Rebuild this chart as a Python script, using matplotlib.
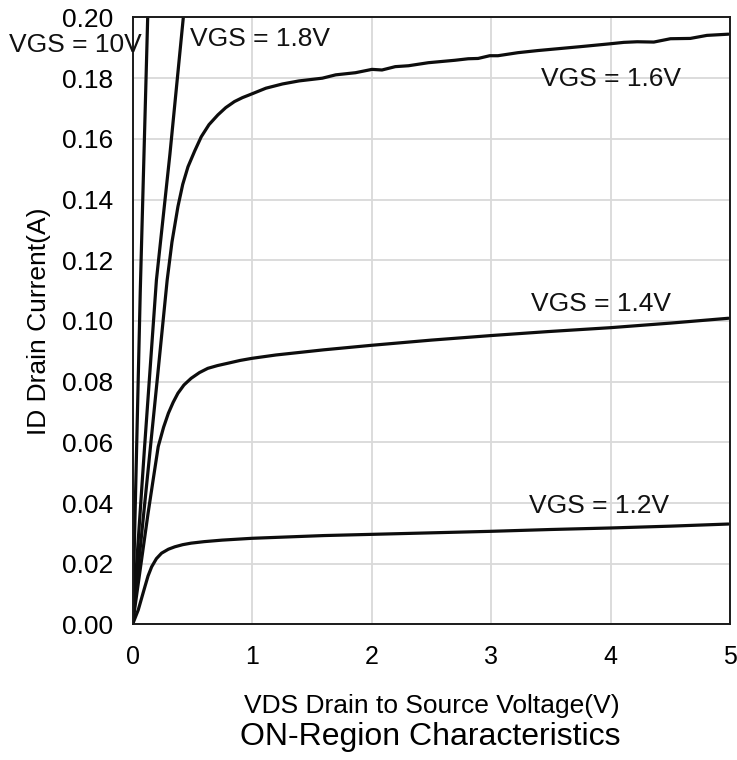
import matplotlib.pyplot as plt

plt.rcParams['font.family'] = ['Liberation Sans', 'DejaVu Sans']

# drain current curves, VDS (V) vs ID (A), one pair of lists per gate voltage
vds_10v = [0.0, 0.065, 0.127]
id_10v = [0.0, 0.110, 0.200]

vds_18v = [0.0, 0.10, 0.20, 0.313, 0.425]
id_18v = [0.0, 0.058, 0.1135, 0.155, 0.200]

vds_16v = [0.0, 0.10, 0.20, 0.29, 0.33, 0.38, 0.42, 0.464, 0.52, 0.575, 0.64, 0.714,
           0.78, 0.853, 0.92, 0.978, 1.116, 1.255, 1.393, 1.588, 1.70, 1.865, 2.003,
           2.087, 2.198, 2.309, 2.475, 2.697, 2.808, 2.891, 2.988, 3.057, 3.224, 3.39,
           3.584, 3.75, 3.987, 4.11, 4.222, 4.361, 4.5, 4.666, 4.805, 4.985]
id_16v = [0.0, 0.039, 0.078, 0.1135, 0.126, 0.1377, 0.145, 0.1508, 0.156, 0.1607,
          0.1647, 0.1679, 0.1703, 0.1723, 0.1736, 0.1745, 0.1767, 0.1781, 0.1791,
          0.1800, 0.1811, 0.1818, 0.1829, 0.1827, 0.1838, 0.1841, 0.1851, 0.1859,
          0.1864, 0.1865, 0.1874, 0.1874, 0.1884, 0.1891, 0.1898, 0.1904, 0.1913,
          0.1918, 0.1920, 0.1919, 0.1930, 0.1931, 0.1941, 0.1945]

vds_14v = [0.0, 0.065, 0.13, 0.17, 0.215, 0.26, 0.30, 0.34, 0.38, 0.43, 0.49, 0.56,
           0.63, 0.71, 0.80, 0.90, 1.0, 1.2, 1.6, 2.003, 2.5, 3.0, 3.473, 4.0, 4.5,
           4.985]
id_14v = [0.0, 0.0183, 0.0366, 0.047, 0.0586, 0.0650, 0.0696, 0.0732, 0.0762, 0.0789,
          0.0811, 0.0830, 0.0844, 0.0853, 0.0861, 0.0870, 0.0877, 0.0888, 0.0905,
          0.0920, 0.0937, 0.0952, 0.0965, 0.0978, 0.0993, 0.1009]

vds_12v = [0.0, 0.048, 0.104, 0.13, 0.16, 0.20, 0.243, 0.30, 0.354, 0.42, 0.49, 0.60,
           0.75, 1.0, 1.6, 2.0, 2.5, 3.0, 3.5, 4.0, 4.5, 4.985]
id_12v = [0.0, 0.0048, 0.0125, 0.0160, 0.0190, 0.0217, 0.0235, 0.0248, 0.0256, 0.0263,
          0.0268, 0.0273, 0.0278, 0.0284, 0.0293, 0.0297, 0.0302, 0.0307, 0.0313,
          0.0318, 0.0324, 0.0331]

curves = [(vds_10v, id_10v), (vds_18v, id_18v), (vds_16v, id_16v),
          (vds_14v, id_14v), (vds_12v, id_12v)]

x_ticks = [0, 1, 2, 3, 4, 5]
y_ticks = [0.00, 0.02, 0.04, 0.06, 0.08, 0.10, 0.12, 0.14, 0.16, 0.18, 0.20]

fig = plt.figure(figsize=(7.37, 7.6), dpi=100)
ax = fig.add_axes([0.1798, 0.1783, 0.8110, 0.7987])

for vds, i_d in curves:
    ax.plot(vds, i_d, color='#0d0d0d', lw=2.3, solid_capstyle='round',
            solid_joinstyle='round')

ax.set_xlim(0, 5)
ax.set_ylim(0, 0.2)
ax.set_xticks(x_ticks)
ax.set_yticks(y_ticks)
ax.set_yticklabels([f"{v:.2f}" for v in y_ticks])
ax.grid(True, color='#d9d9d9', lw=1.3)
ax.set_axisbelow(True)
ax.tick_params(length=0)
ax.tick_params(axis='x', pad=15, labelsize=18)
ax.tick_params(axis='y', pad=14, labelsize=19)
for sp in ax.spines.values():
    sp.set_color('#1a1a1a')
    sp.set_linewidth(1.4)

ax.set_xlabel('VDS Drain to Source Voltage(V)', fontsize=19, labelpad=18)
ax.set_ylabel('ID Drain Current(A)', fontsize=19, labelpad=8)

# curve labels
lbl = dict(fontsize=19, va='center', color='#111111')
ax.text(-0.48, 0.1910, 'VGS = 10V', ha='center', clip_on=False, **lbl)
ax.text(0.478, 0.1929, 'VGS = 1.8V', ha='left', **lbl)
ax.text(3.415, 0.1797, 'VGS = 1.6V', ha='left', **lbl)
ax.text(3.332, 0.1056, 'VGS = 1.4V', ha='left', **lbl)
ax.text(3.32, 0.0390, 'VGS = 1.2V', ha='left', **lbl)

fig.text(0.5835, 1 - 737 / 760, 'ON-Region Characteristics', fontsize=23,
         ha='center', va='center')

fig.savefig('out.png', dpi=100)
